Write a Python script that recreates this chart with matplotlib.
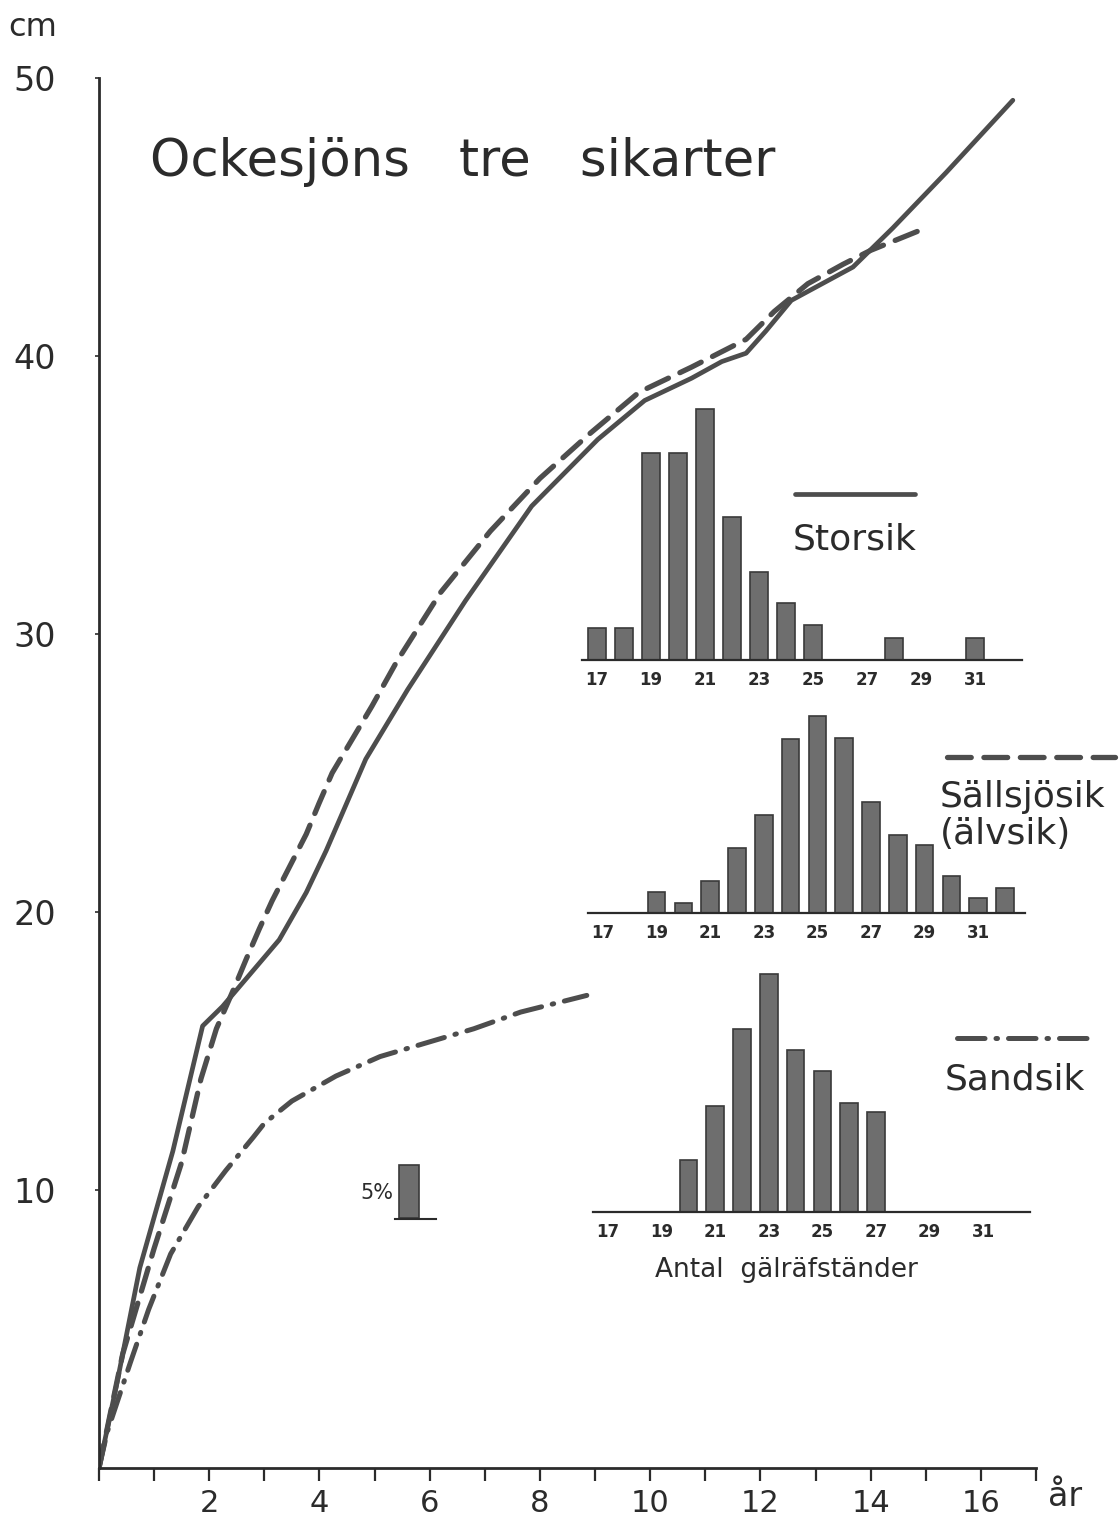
import numpy as np
import matplotlib
matplotlib.use("Agg")
import matplotlib.pyplot as plt

W, H = 1120, 1522
INK = "#2b2b2b"
LINE = "#4d4d4d"
BAR = "#6e6e6e"

# growth curves (age in years, length in cm)
years_stor = [0, 0.33, 0.74, 1.34, 1.88, 2.24, 2.67, 3.27, 3.76, 4.12, 4.84, 5.6, 6.65,
              7.85, 9.05, 9.9, 10.75, 11.3, 11.74, 12.1, 12.56, 13.68, 14.4, 15.37, 16.58]
len_stor = [0, 3.1, 7.2, 11.4, 15.9, 16.6, 17.6, 19.0, 20.7, 22.2, 25.5, 28.0, 31.2,
            34.6, 37.0, 38.4, 39.2, 39.8, 40.1, 40.9, 42.0, 43.2, 44.6, 46.6, 49.2]

years_sall = [0, 0.43, 1.0, 1.5, 1.85, 2.13, 2.46, 2.67, 2.91, 3.14, 3.45, 3.76, 3.99, 4.23,
              4.59, 4.95, 5.4, 6.2, 7.1, 8.0, 8.9, 9.8, 10.75, 11.74, 12.25, 12.86, 13.5,
              14.0, 14.87]
len_sall = [0, 4.1, 7.9, 11.0, 14.0, 15.8, 17.3, 18.3, 19.4, 20.4, 21.6, 22.8, 23.9, 25.0,
            26.2, 27.4, 29.0, 31.5, 33.7, 35.6, 37.2, 38.7, 39.6, 40.6, 41.6, 42.6, 43.3,
            43.8, 44.5]

years_sand = [0, 0.15, 0.57, 0.9, 1.3, 1.8, 2.3, 2.8, 3.0, 3.5, 4.3, 5.1, 5.95, 6.8, 7.65, 8.85]
len_sand = [0, 1.3, 3.8, 5.7, 7.7, 9.4, 10.7, 11.9, 12.4, 13.2, 14.1, 14.8, 15.3, 15.8, 16.4, 17.0]

# gill raker counts, percent of fish
rakers_stor = [17, 18, 19, 20, 21, 22, 23, 24, 25, 28, 31]
pct_stor = [3.0, 3.0, 19.5, 19.5, 23.7, 13.5, 8.3, 5.4, 3.3, 2.1, 2.1]

rakers_sall = [19, 20, 21, 22, 23, 24, 25, 26, 27, 28, 29, 30, 31, 32]
pct_sall = [1.95, 0.9, 3.0, 6.1, 9.2, 16.4, 18.6, 16.5, 10.5, 7.4, 6.4, 3.5, 1.4, 2.4]

rakers_sand = [20, 21, 22, 23, 24, 25, 26, 27]
pct_sand = [4.9, 10.0, 17.3, 22.5, 15.3, 13.3, 10.3, 9.4]

hist_ticks = [17, 19, 21, 23, 25, 27, 29, 31]

fig = plt.figure(figsize=(W / 100, H / 100), dpi=100)
fig.patch.set_facecolor("white")


def px_axes(x0, x1, ybot, ytop):
    return fig.add_axes([x0 / W, 1 - ybot / H, (x1 - x0) / W, (ybot - ytop) / H])


# main axes: x 0..17 yr over px 99..1036, y 0..50 cm over px 1468..78
ax = px_axes(99, 1036, 1468, 78)
ax.set_xlim(0, 17)
ax.set_ylim(0, 50)
ax.patch.set_alpha(0)
for s in ["top", "right"]:
    ax.spines[s].set_visible(False)
for s in ["left", "bottom"]:
    ax.spines[s].set_color(INK)
    ax.spines[s].set_linewidth(2.0)

ax.set_xticks(range(0, 18))
ax.set_xticklabels([str(v) if v % 2 == 0 and v > 0 else "" for v in range(0, 18)],
                   fontsize=22, color=INK)
ax.tick_params(axis="x", direction="out", length=9, width=1.6, color=INK, pad=6)
ax.set_yticks([10, 20, 30, 40, 50])
ax.set_yticklabels(["10", "20", "30", "40", "50"], fontsize=24, color=INK)
ax.tick_params(axis="y", direction="out", length=3, width=1.2, color=INK, pad=28)

ax.plot(years_stor, len_stor, color=LINE, lw=3.4, solid_capstyle="round",
        solid_joinstyle="round")
ax.plot(years_sall, len_sall, color=LINE, lw=3.8, dashes=(4.5, 2.4),
        dash_capstyle="round")
ax.plot(years_sand, len_sand, color=LINE, lw=3.6, dashes=(5.5, 2.2, 0.3, 2.2),
        dash_capstyle="round")

fig.text(8 / W, 1 - 28 / H, "cm", fontsize=23, color=INK, va="center", ha="left")
fig.text(1048 / W, 1 - 1497 / H, "år", fontsize=24, color=INK, va="center", ha="left")
fig.text(150 / W, 1 - 162 / H, "Ockesjöns   tre   sikarter", fontsize=37, color=INK,
         va="center", ha="left")


def histogram(x17, unit, base, rakers, pct):
    cmin, cmax = 16.45, 32.75
    pxpp = 10.6  # pixels per percent (5% = 53 px)
    hax = px_axes(x17 + (cmin - 17) * unit, x17 + (cmax - 17) * unit, base, base - 25 * pxpp)
    hax.set_xlim(cmin, cmax)
    hax.set_ylim(0, 25)
    hax.patch.set_alpha(0)
    for s in ["top", "right", "left"]:
        hax.spines[s].set_visible(False)
    hax.spines["bottom"].set_color(INK)
    hax.spines["bottom"].set_linewidth(1.6)
    hax.bar(rakers, pct, width=0.66, color=BAR, edgecolor="#3a3a3a", linewidth=1.2)
    hax.set_yticks([])
    hax.set_xticks(hist_ticks)
    hax.set_xticklabels([str(t) for t in hist_ticks], fontsize=12, fontweight="bold",
                        color=INK)
    hax.tick_params(axis="x", length=0, pad=8)
    return hax


histogram(597, 27.0, 660, rakers_stor, pct_stor)
histogram(603, 26.8, 913, rakers_sall, pct_sall)
histogram(608, 26.8, 1212, rakers_sand, pct_sand)

fig.text(655 / W, 1 - 1270 / H, "Antal  gälräfständer", fontsize=19, color=INK,
         va="center", ha="left")

# legend keys
leg = px_axes(0, W, H, 0)
leg.set_xlim(0, W)
leg.set_ylim(H, 0)
leg.axis("off")
leg.patch.set_alpha(0)
leg.plot([795, 915], [494, 494], color=LINE, lw=3.4, solid_capstyle="round")
leg.plot([947, 1115], [757, 757], color=LINE, lw=3.8, dashes=(4.5, 2.4),
         dash_capstyle="round")
leg.plot([957, 1090], [1038, 1038], color=LINE, lw=3.6, dashes=(5.5, 2.2, 0.3, 2.2),
         dash_capstyle="round")
leg.text(793, 540, "Storsik", fontsize=26, color=INK, va="center", ha="left")
leg.text(940, 797, "Sällsjösik", fontsize=26, color=INK, va="center", ha="left")
leg.text(940, 834, "(älvsik)", fontsize=26, color=INK, va="center", ha="left")
leg.text(945, 1080, "Sandsik", fontsize=26, color=INK, va="center", ha="left")

# 5 % scale bar
leg.bar([409], [-53], bottom=1218, width=20, color=BAR, edgecolor="#3a3a3a", linewidth=1.2)
leg.plot([395, 436], [1219, 1219], color=INK, lw=1.5)
leg.text(393, 1193, "5%", fontsize=15, color=INK, va="center", ha="right")

fig.savefig("out.png", dpi=100)
